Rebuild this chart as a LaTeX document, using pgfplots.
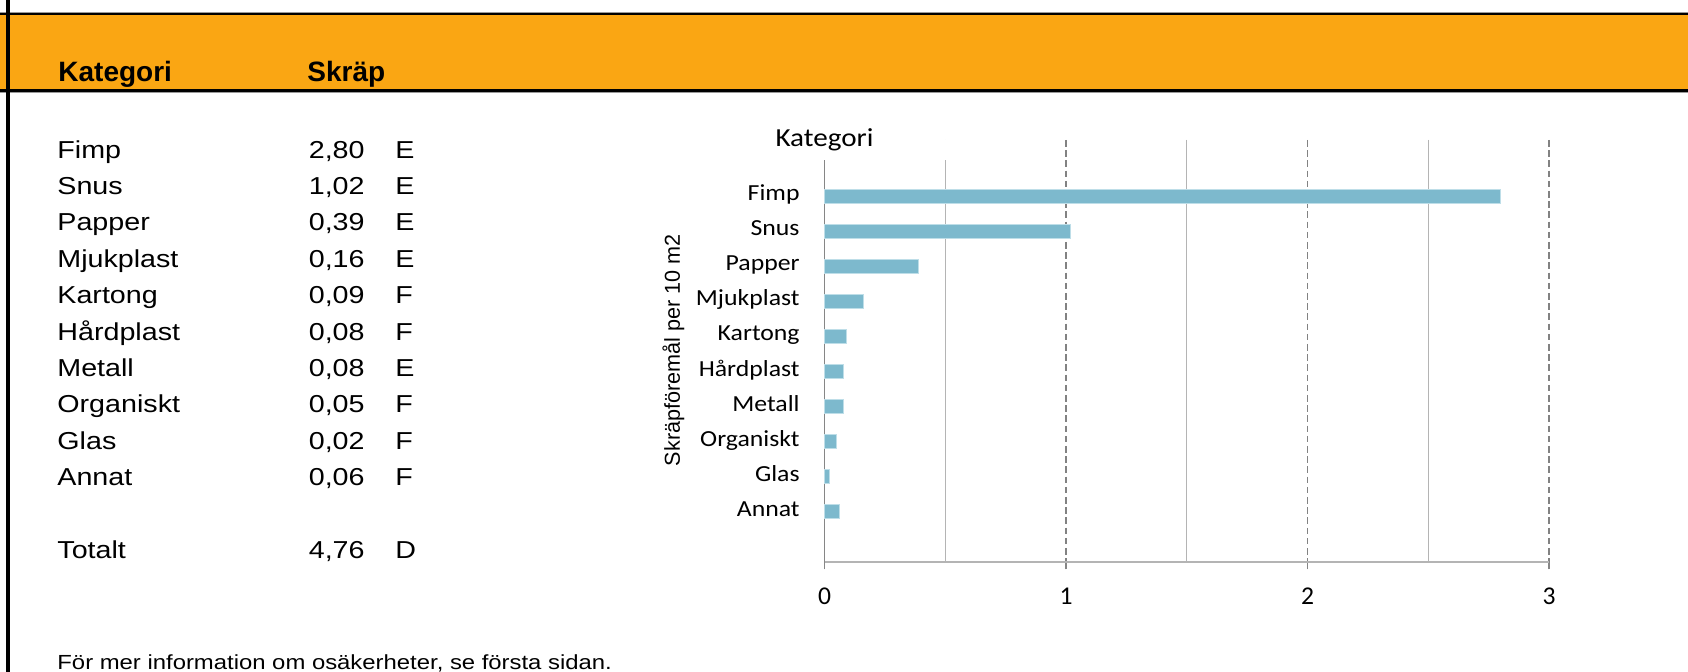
\documentclass[border=0pt]{standalone}
\usepackage{pgfplots}
\pgfplotsset{compat=1.18}
\usepackage{fontspec}
\setmainfont{Liberation Sans}
\newfontfamily\tabfont[FakeStretch=1.17]{Liberation Sans}
\newfontfamily\calfont[FakeStretch=1.12]{Carlito}
\newfontfamily\caltitle[FakeStretch=1.12]{Carlito}
\newfontfamily\calplain{Carlito}
\definecolor{orng}{RGB}{250,166,19}
\definecolor{barblue}{RGB}{125,185,205}
\definecolor{baredge}{RGB}{190,222,232}
\definecolor{gridsolid}{RGB}{180,180,180}
\definecolor{griddash}{RGB}{130,130,130}
\definecolor{axgray}{RGB}{134,134,134}
\newcommand{\tabtxt}{\tabfont\fontsize{12.25pt}{14pt}\selectfont}
\newcommand{\trow}[4]{%
  \node[anchor=base west,inner sep=0pt,font=\tabtxt] at (57,#1) {#2};
  \node[anchor=base east,inner sep=0pt,font=\tabtxt] at (365,#1) {#3};
  \node[anchor=base west,inner sep=0pt,font=\tabtxt] at (395,#1) {#4};}
\begin{document}
\begin{tikzpicture}[x=0.5pt,y=0.5pt]
\path[use as bounding box] (0,0) rectangle (1688,672);
\clip (0,0) rectangle (1688,672);
\fill[white] (0,0) rectangle (1688,672);
\fill[orng] (0,583) rectangle (1688,656.7);
\draw[black, line width=1.3pt] (0,658) -- (1688,658);
\draw[black!40, line width=0.4pt] (0,660) -- (1688,660);
\draw[black, line width=1.35pt] (0,581.7) -- (1688,581.7);
\draw[black!40, line width=0.4pt] (0,579.6) -- (1688,579.6);
\draw[black, line width=1.8pt] (8,0) -- (8,672);
\node[anchor=base west, inner sep=0pt, font=\bfseries\fontsize{14pt}{16pt}\selectfont] at (58,590.3) {Kategori};
\node[anchor=base west, inner sep=0pt, font=\bfseries\fontsize{14pt}{16pt}\selectfont] at (307,590.3) {Skräp};
\trow{513.7}{Fimp}{2,80}{E}
\trow{477.3}{Snus}{1,02}{E}
\trow{441.0}{Papper}{0,39}{E}
\trow{404.6}{Mjukplast}{0,16}{E}
\trow{368.3}{Kartong}{0,09}{F}
\trow{331.9}{Hårdplast}{0,08}{F}
\trow{295.5}{Metall}{0,08}{E}
\trow{259.2}{Organiskt}{0,05}{F}
\trow{222.8}{Glas}{0,02}{F}
\trow{186.5}{Annat}{0,06}{F}
\trow{113.7}{Totalt}{4,76}{D}
\node[anchor=base west, inner sep=0pt, font=\tabfont\fontsize{10.2pt}{12pt}\selectfont] at (57,2.5) {För mer information om osäkerheter, se första sidan.};
\begin{axis}[
  at={(412.25pt,55pt)}, anchor=south west, scale only axis,
  width=362.25pt, height=211pt,
  xbar, bar width=0.39,
  xmin=0, xmax=3, ymin=-0.6, ymax=11.44, y dir=reverse,
  axis x line*=bottom, axis y line*=left,
  x axis line style={draw=gridsolid, line width=1.2pt, -},
  y axis line style={draw=axgray, line width=0.7pt, -},
  xtick={0,1,2,3}, xticklabels={0,1,2,3},
  minor xtick={0.5,1.5,2.5},
  xmajorgrids, xminorgrids,
  major grid style={draw=griddash, line width=0.65pt, dash pattern=on 3.3pt off 1.8pt},
  minor grid style={draw=gridsolid, line width=0.65pt},
  ytick={1,...,10},
  yticklabels={Fimp,Snus,Papper,Mjukplast,Kartong,Hårdplast,Metall,Organiskt,Glas,Annat},
  ytick style={draw=none},
  xtick style={draw=axgray, line width=0.65pt},
  minor x tick style={draw=none},
  tick align=outside, major tick length=3.75pt, minor tick length=0pt,
  xticklabel style={font=\calplain\fontsize{12.8pt}{14pt}\selectfont, anchor=base, inner sep=0pt, yshift=-17.75pt},
  yticklabel style={font=\calfont\fontsize{11.5pt}{13pt}\selectfont, anchor=base east, inner sep=0pt, xshift=-8.5pt, yshift=-2.35pt},
  ylabel={Skräpföremål per 10 m2},
  ylabel style={font=\fontsize{10.8pt}{12pt}\selectfont, at={(axis description cs:-0.2084,0.502)}, anchor=center},
  every axis title shift=0pt,
  title={Kategori},
  title style={font=\caltitle\fontsize{13pt}{15pt}\selectfont, at={(axis description cs:0,1)}, anchor=base, inner sep=0pt, yshift=-3.35pt},
  clip=false,
]
\fill[white] (axis cs:-0.3,-0.6) rectangle (axis cs:0.75,-0.03);
\addplot[fill=barblue, draw=baredge, line width=0.4pt] coordinates {
  (2.80,1) (1.02,2) (0.39,3) (0.16,4) (0.09,5)
  (0.08,6) (0.08,7) (0.05,8) (0.02,9) (0.06,10)};
\end{axis}
\end{tikzpicture}
\end{document}
